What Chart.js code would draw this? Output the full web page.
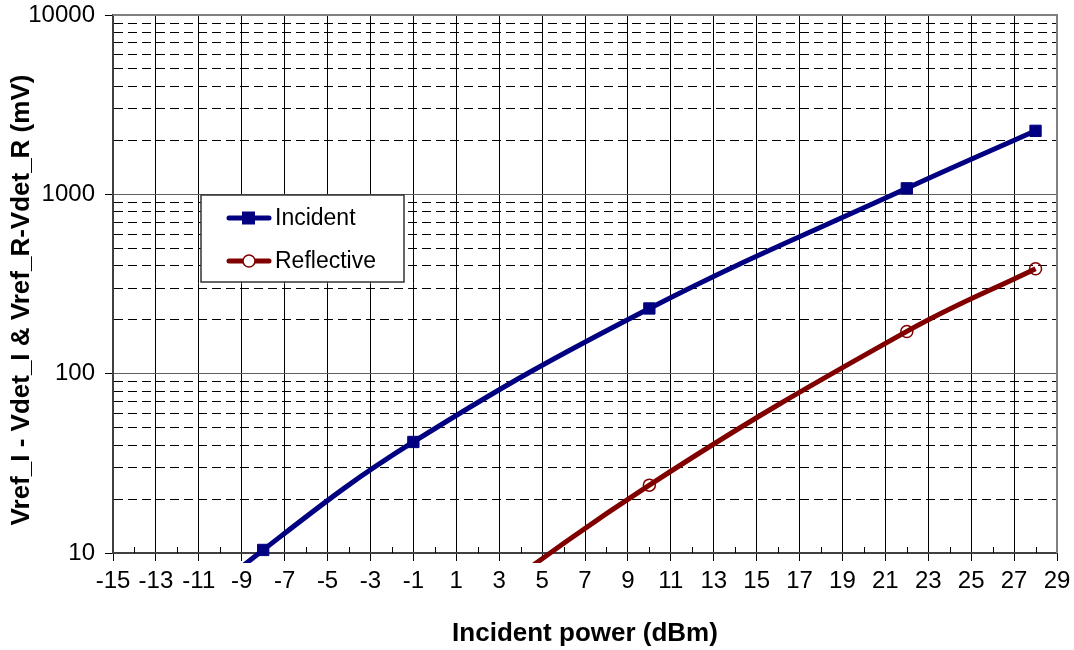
<!DOCTYPE html>
<html>
<head>
<meta charset="utf-8">
<script src="https://cdn.jsdelivr.net/npm/chart.js@4.4.0/dist/chart.umd.min.js"></script>
<style>
  html, body { margin: 0; padding: 0; background: #fff; }
</style>
</head>
<body>
<canvas id="powerChart" width="1074" height="650"></canvas>
<script>
// values (mV, log axis)
const incidentDbm = [-15, -8, -1, 10, 22, 28];
const incidentMv = [2.1, 10.4, 41.6, 231, 1080, 2260];
const reflectiveDbm = [-1, 10, 22, 28];
const reflectiveMv = [2.8, 23.9, 172, 385];

const xMin = -15, xMax = 29;
const decades = [10, 100, 1000, 10000];
const yTickLabels = ['10', '100', '1000', '10000'];
const yTitle = 'Vref_I - Vdet_I & Vref_R-Vdet_R (mV)';

const FONT = '"Liberation Sans", Arial, sans-serif';

function toPoints(xs, ys) {
    return xs.map(function(x, i) { return { x: x, y: ys[i] }; });
}

function isDecade(v) {
    return decades.indexOf(v) !== -1;
}

// y ticks: 1..9 x every decade
var yTicks = [];
for (var d = 0; d < decades.length - 1; d++) {
    for (var m = 1; m <= 9; m++) yTicks.push(decades[d] * m);
}
yTicks.push(decades[decades.length - 1]);

// excel-ish frame, minor x ticks, y title and the boxed legend
const framePlugin = {
    id: 'frame',
    beforeDatasetsDraw(chart) {
        var ctx = chart.ctx, a = chart.chartArea, xs = chart.scales.x;
        ctx.save();
        ctx.strokeStyle = '#808080';
        ctx.lineWidth = 2;
        ctx.beginPath();
        ctx.moveTo(a.left, a.top);
        ctx.lineTo(a.right, a.top);
        ctx.lineTo(a.right, a.bottom);
        ctx.stroke();
        ctx.strokeStyle = '#000';
        ctx.lineWidth = 1;
        for (var v = xMin + 1; v < xMax; v += 2) {
            var px = Math.round(xs.getPixelForValue(v)) + 0.5;
            ctx.beginPath();
            ctx.moveTo(px, a.bottom);
            ctx.lineTo(px, a.bottom - 6);
            ctx.stroke();
        }
        // y axis title (sits a bit below centre in the original)
        ctx.translate(22, 300);
        ctx.rotate(-Math.PI / 2);
        ctx.font = 'bold 26px ' + FONT;
        ctx.fillStyle = '#000';
        ctx.textAlign = 'center';
        ctx.textBaseline = 'middle';
        ctx.fillText(yTitle, 0, 0);
        ctx.restore();
    },
    afterDatasetsDraw(chart) {
        var ctx = chart.ctx;
        var box = { x: 201, y: 195, w: 203, h: 87 };
        ctx.save();
        ctx.fillStyle = '#fff';
        ctx.fillRect(box.x, box.y, box.w, box.h);
        ctx.strokeStyle = '#333';
        ctx.lineWidth = 1.5;
        ctx.strokeRect(box.x, box.y, box.w, box.h);
        ctx.font = '23px ' + FONT;
        ctx.textBaseline = 'middle';
        chart.data.datasets.forEach(function(ds, i) {
            var y = box.y + 23 + i * 43;
            ctx.strokeStyle = ds.borderColor;
            ctx.lineWidth = 5;
            ctx.lineCap = 'round';
            ctx.beginPath();
            ctx.moveTo(box.x + 28, y);
            ctx.lineTo(box.x + 68, y);
            ctx.stroke();
            ctx.lineWidth = ds.pointBorderWidth;
            ctx.fillStyle = ds.pointBackgroundColor;
            ctx.strokeStyle = ds.borderColor;
            if (ds.pointStyle === 'rect') {
                ctx.fillRect(box.x + 41, y - 6.5, 13, 13);
            } else {
                ctx.fillStyle = '#fff';
                ctx.beginPath();
                ctx.arc(box.x + 48, y, 6, 0, Math.PI * 2);
                ctx.fill();
                ctx.stroke();
            }
            ctx.fillStyle = '#000';
            ctx.fillText(ds.label, box.x + 74, y + 1);
        });
        ctx.restore();
    }
};

new Chart(document.getElementById('powerChart').getContext('2d'), {
    type: 'line',
    data: {
        datasets: [{
            label: 'Incident',
            data: toPoints(incidentDbm, incidentMv),
            borderColor: '#000080',
            borderWidth: 5,
            pointStyle: 'rect',
            pointRadius: 8,
            pointBackgroundColor: '#000080',
            pointBorderColor: '#000080',
            pointBorderWidth: 1,
            tension: 0.4,
            clip: { left: 0, top: 0, right: 0, bottom: 10 }
        }, {
            label: 'Reflective',
            data: toPoints(reflectiveDbm, reflectiveMv),
            borderColor: '#800000',
            borderWidth: 5,
            pointStyle: 'circle',
            pointRadius: 6,
            pointBackgroundColor: 'rgba(0,0,0,0)',
            pointBorderColor: '#800000',
            pointBorderWidth: 1.5,
            tension: 0.4,
            clip: { left: 0, top: 0, right: 0, bottom: 10 }
        }]
    },
    options: {
        responsive: false,
        animation: false,
        layout: { padding: { top: 15, right: 17, left: 0, bottom: 0 } },
        plugins: {
            legend: { display: false },
            tooltip: { enabled: false }
        },
        scales: {
            x: {
                type: 'linear',
                min: xMin,
                max: xMax,
                afterBuildTicks: function(scale) {
                    var t = [];
                    for (var v = xMin; v <= xMax; v++) t.push({ value: v });
                    scale.ticks = t;
                },
                afterFit: function(scale) {
                    scale.height = 97;
                    scale.paddingLeft = 0;
                    scale.paddingRight = 0;
                },
                ticks: {
                    autoSkip: false,
                    maxRotation: 0,
                    padding: 6,
                    color: '#000',
                    font: { family: FONT, size: 24 },
                    callback: function(v) { return Math.abs(v % 2) === 1 ? String(v) : ''; }
                },
                grid: {
                    color: function(c) {
                        var v = c.tick && c.tick.value;
                        return (Math.abs(v % 2) === 1 && v !== xMin && v !== xMax) ? '#000' : 'rgba(0,0,0,0)';
                    },
                    tickColor: function(c) {
                        return c.tick && Math.abs(c.tick.value % 2) === 1 ? '#000' : 'rgba(0,0,0,0)';
                    },
                    lineWidth: 1,
                    tickLength: 8
                },
                border: { color: '#404040', width: 2 },
                title: {
                    display: true,
                    text: 'Incident power (dBm)',
                    color: '#000',
                    font: { family: FONT, size: 26, weight: 'bold' },
                    padding: { top: 0, bottom: 1 }
                }
            },
            y: {
                type: 'logarithmic',
                min: 10,
                max: 10000,
                afterBuildTicks: function(scale) {
                    scale.ticks = yTicks.map(function(v) { return { value: v }; });
                },
                afterFit: function(scale) {
                    scale.width = 113;
                    scale.paddingTop = 0;
                    scale.paddingBottom = 0;
                },
                ticks: {
                    autoSkip: false,
                    padding: 10,
                    color: '#000',
                    font: { family: FONT, size: 24 },
                    callback: function(v) {
                        var i = decades.indexOf(v);
                        return i === -1 ? '' : yTickLabels[i];
                    }
                },
                grid: {
                    color: function(c) {
                        return c.tick && isDecade(c.tick.value) ? '#606060' : '#000';
                    },
                    tickColor: function(c) {
                        return c.tick && isDecade(c.tick.value) ? '#000' : 'rgba(0,0,0,0)';
                    },
                    lineWidth: 1,
                    tickLength: 8
                },
                border: {
                    color: '#404040',
                    width: 2,
                    dash: function(c) {
                        return c.tick && !isDecade(c.tick.value) ? [9, 5] : [];
                    }
                },
                title: { display: false }
            }
        }
    },
    plugins: [framePlugin]
});
</script>
</body>
</html>
